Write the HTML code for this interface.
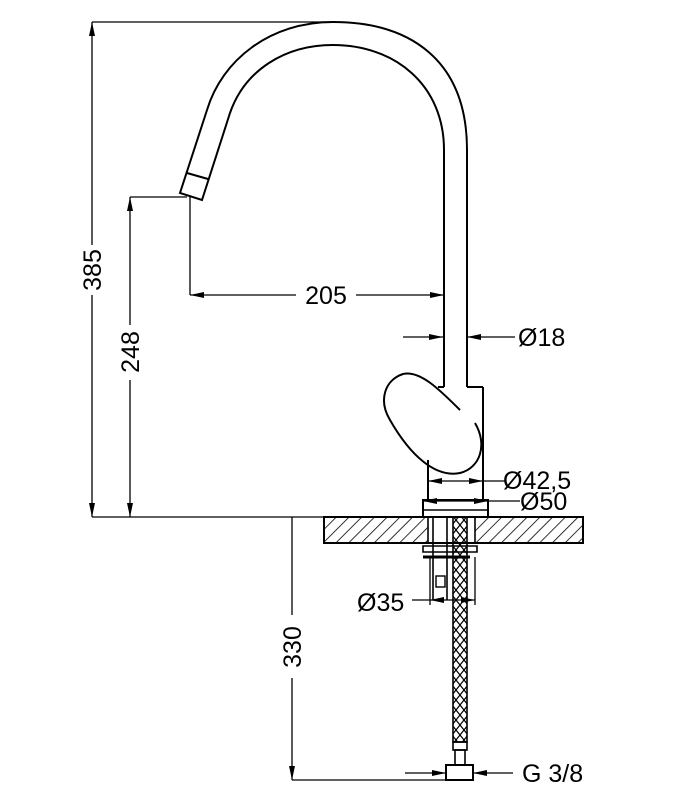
<!DOCTYPE html>
<html><head><meta charset="utf-8"><style>html,body{margin:0;padding:0;background:#fff}svg{display:block}</style></head>
<body>
<svg width="698" height="800" viewBox="0 0 698 800" xmlns="http://www.w3.org/2000/svg">
<defs>
<pattern id="h" width="9" height="9" patternUnits="userSpaceOnUse" patternTransform="rotate(45)">
<line x1="0" y1="0" x2="0" y2="9" stroke="#000" stroke-width="1.6"/></pattern>
<pattern id="br" width="8" height="10" patternUnits="userSpaceOnUse">
<path d="M0 0 L8 10 M8 0 L0 10" stroke="#000" stroke-width="1.2"/></pattern>
<marker id="a" viewBox="0 0 14 6" refX="14" refY="3" markerWidth="14" markerHeight="6" markerUnits="userSpaceOnUse" orient="auto"><path d="M0 0 L14 3 L0 6z" fill="#000"/></marker>
</defs>
<g fill="none" stroke="#000" stroke-width="1.6">
<path d="M467 387 L467 150 C467 60 410 22 333 22 C270 22 222 60 207 110 L180 193 L202 200 L230 113 C245 70 285 45 333 45 C395 45 444 85 444 150 L444 387" stroke-width="2"/>
<line x1="187" y1="173" x2="208" y2="179" stroke-width="2"/>
<path d="M428 460 L428 500 M483 387 L483 500 M467 387 L483 387 M444 387 L438 387" stroke-width="2"/>
<path d="M460 410 C440 390 420 370 403 374 C385 380 378 400 390 420 C410 455 435 478 460 473 C480 468 488 445 475 423" stroke-width="2"/>
<rect x="423" y="500" width="65" height="17" stroke-width="2"/>
<line x1="423" y1="510" x2="488" y2="510"/>
<rect x="324" y="517" width="259" height="26" fill="url(#h)" stroke-width="2"/>
<rect x="428" y="518" width="47" height="24" fill="#fff" stroke="none"/>
<line x1="428" y1="517" x2="428" y2="543"/><line x1="475" y1="517" x2="475" y2="543"/>
<path d="M423 546 L477 546 L477 552 L423 552 Z"/>
<line x1="423" y1="557" x2="470" y2="557" stroke-width="3"/>
<line x1="433" y1="517" x2="433" y2="600"/><line x1="447" y1="517" x2="447" y2="600"/>
<rect x="436" y="576" width="9" height="11" stroke-width="1.4"/>
<rect x="453" y="517" width="14" height="225" fill="url(#br)"/>
<rect x="453" y="742" width="14" height="8"/>
<rect x="455" y="750" width="10" height="15"/>
<rect x="446" y="765" width="27" height="15" stroke-width="2"/>
</g>
<g stroke="#000" stroke-width="1.3" fill="none">
<line x1="92" y1="22" x2="333" y2="22"/><line x1="92" y1="517" x2="324" y2="517"/>
<line x1="92" y1="245" x2="92" y2="22" marker-end="url(#a)"/>
<line x1="92" y1="295" x2="92" y2="517" marker-end="url(#a)"/>
<line x1="130" y1="197" x2="187" y2="197"/>
<line x1="130" y1="325" x2="130" y2="197" marker-end="url(#a)"/>
<line x1="130" y1="380" x2="130" y2="517" marker-end="url(#a)"/>
<line x1="190" y1="197" x2="190" y2="295"/>
<line x1="296" y1="295" x2="190" y2="295" marker-end="url(#a)"/>
<line x1="356" y1="295" x2="444" y2="295" marker-end="url(#a)"/>
<line x1="403" y1="337" x2="443" y2="337" marker-end="url(#a)"/>
<line x1="515" y1="337" x2="467" y2="337" marker-end="url(#a)"/>
<line x1="455" y1="481" x2="428" y2="481" marker-end="url(#a)"/>
<line x1="455" y1="481" x2="483" y2="481" marker-end="url(#a)"/>
<line x1="483" y1="481" x2="505" y2="481"/>
<line x1="455" y1="501" x2="423" y2="501" marker-end="url(#a)"/>
<line x1="455" y1="501" x2="488" y2="501" marker-end="url(#a)"/>
<line x1="488" y1="501" x2="520" y2="501"/>
<line x1="430" y1="557" x2="430" y2="605"/><line x1="475" y1="557" x2="475" y2="605"/>
<line x1="412" y1="600" x2="430" y2="600"/>
<line x1="452" y1="600" x2="430" y2="600" marker-end="url(#a)"/>
<line x1="452" y1="600" x2="475" y2="600" marker-end="url(#a)"/>
<line x1="292" y1="517" x2="292" y2="615"/>
<line x1="292" y1="678" x2="292" y2="780" marker-end="url(#a)"/>
<line x1="292" y1="780" x2="446" y2="780"/>
<line x1="405" y1="773" x2="446" y2="773" marker-end="url(#a)"/>
<line x1="513" y1="773" x2="473" y2="773" marker-end="url(#a)"/>
</g>
<g font-family="Liberation Sans, sans-serif" font-size="25" fill="#000">
<text x="326" y="304" text-anchor="middle">205</text>
<text x="518" y="346">Ø18</text>
<text x="503" y="489">Ø42,5</text>
<text x="520" y="510">Ø50</text>
<text x="357" y="611">Ø35</text>
<text x="522" y="782">G 3/8</text>
<text transform="translate(101,270) rotate(-90)" text-anchor="middle">385</text>
<text transform="translate(139,352) rotate(-90)" text-anchor="middle">248</text>
<text transform="translate(301,647) rotate(-90)" text-anchor="middle">330</text>
</g>
</svg>
</body></html>
